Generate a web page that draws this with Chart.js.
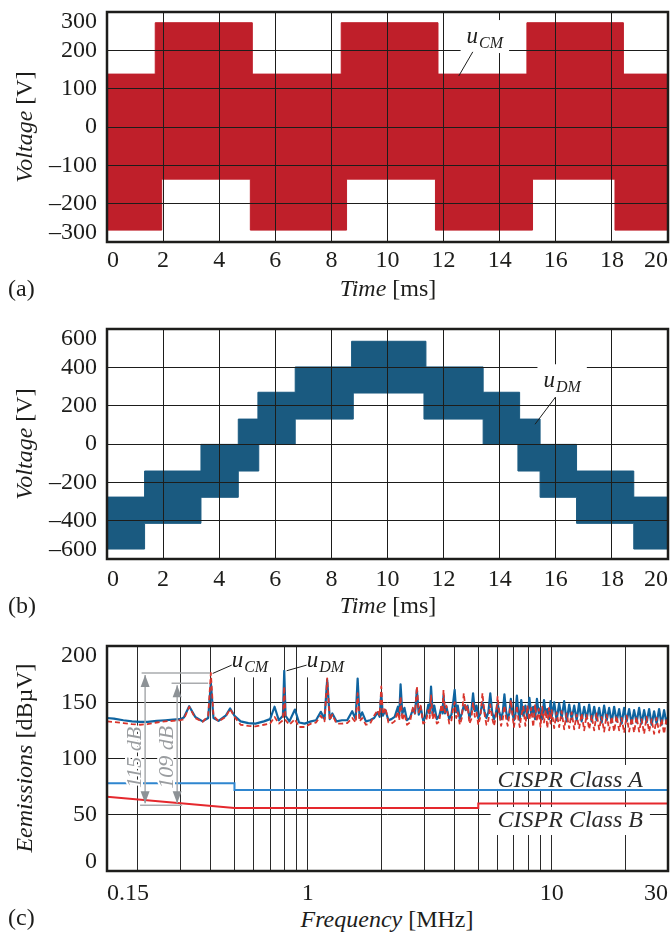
<!DOCTYPE html>
<html>
<head>
<meta charset="utf-8">
<script src="https://cdn.jsdelivr.net/npm/chart.js@4.4.1/dist/chart.umd.min.js"></script>
<style>
    body { margin: 0; background: #fff; }
    #wrap { position: relative; width: 670px; height: 932px; font-family: 'Liberation Serif', 'Times New Roman', serif; color: #1d1d1b; }
    canvas { position: absolute; left: 0; }
    .t { position: absolute; font-size: 24px; line-height: 1; white-space: nowrap; }
    .x { transform: translate(-50%, -50%); }
    .y { transform: translate(-50%, -50%) rotate(-90deg); }
</style>
</head>
<body>
<div id="wrap">
    <canvas id="cmChart" width="670" height="276" style="top:0"></canvas>
    <canvas id="dmChart" width="670" height="276" style="top:317px"></canvas>
    <canvas id="specChart" width="670" height="272" style="top:634px"></canvas>

    <div class="t y" style="left:24px; top:127px"><i>Voltage</i> [V]</div>
    <div class="t x" style="left:388px; top:288px"><i>Time</i> [ms]</div>
    <div class="t" style="left:8px; top:276px">(a)</div>

    <div class="t y" style="left:24px; top:444px"><i>Voltage</i> [V]</div>
    <div class="t x" style="left:388px; top:605px"><i>Time</i> [ms]</div>
    <div class="t" style="left:8px; top:593px">(b)</div>

    <div class="t y" style="left:24px; top:758px"><i>Eemissions</i> [dBµV]</div>
    <div class="t x" style="left:387px; top:919px"><i>Frequency</i> [MHz]</div>
    <div class="t" style="left:8px; top:905px">(c)</div>
</div>

<script>
// (a) common-mode voltage band: step start times [ms] and envelope values [V]
const cmUpperT = [0, 1.72, 5.18, 8.35, 11.80, 14.97, 18.41, 20];
const cmUpperV = [138, 272, 138, 272, 138, 272, 138, 138];
const cmLowerT = [0, 1.95, 5.11, 8.54, 11.71, 15.17, 18.11, 20];
const cmLowerV = [-269, -136, -269, -136, -269, -136, -269, -269];

// (b) differential-mode voltage band
const dmUpperT = [0, 1.34, 3.35, 4.68, 5.38, 6.71, 8.72, 11.37, 13.41, 14.71, 15.44, 16.74, 18.78, 20];
const dmUpperV = [-277, -141, -2, 130, 270, 402, 536, 402, 270, 130, -2, -141, -277, -277];
const dmLowerT = [0, 1.34, 3.35, 4.68, 5.41, 6.71, 8.78, 11.30, 13.41, 14.65, 15.44, 16.74, 18.78, 20];
const dmLowerV = [-548, -414, -278, -141, -2, 130, 266, 130, -2, -141, -278, -414, -548, -548];

const timeTicks = [0, 2, 4, 6, 8, 10, 12, 14, 16, 18, 20];

// (c) spectra, frequency in MHz, emissions in dBuV
const specFreq = [
    0.15, 0.16, 0.175, 0.19, 0.205, 0.22, 0.24, 0.26, 0.28, 0.30,
    0.31, 0.326, 0.345, 0.37, 0.39, 0.40, 0.41, 0.43, 0.46, 0.48, 0.50, 0.53, 0.57, 0.61, 0.66, 0.70, 0.73, 0.76, 0.79, 0.80, 0.81, 0.84, 0.885, 0.92, 0.97,
    1.03, 1.08, 1.13, 1.17, 1.20, 1.23, 1.26, 1.31, 1.38, 1.45, 1.52, 1.57, 1.60, 1.63, 1.67, 1.73, 1.80, 1.87, 1.93, 1.97,
    2.00, 2.03, 2.08, 2.14, 2.20, 2.27, 2.34, 2.37, 2.40, 2.44, 2.49, 2.55, 2.62, 2.70, 2.75, 2.80, 2.85, 2.90, 2.97,
    3.05, 3.12, 3.16, 3.20, 3.25, 3.30, 3.38, 3.46, 3.53, 3.57, 3.60, 3.65, 3.70, 3.80, 3.88, 3.94,
    4.00, 4.06, 4.12, 4.20, 4.28, 4.36, 4.44, 4.52, 4.60, 4.68, 4.76, 4.84, 4.92,
    5.0, 5.1, 5.2, 5.3, 5.4, 5.5, 5.6, 5.7, 5.8, 5.9, 6.0, 6.1, 6.2, 6.3, 6.4, 6.5, 6.6, 6.7, 6.8, 6.9, 7.0, 7.1, 7.2, 7.3, 7.4,
    7.5, 7.65, 7.8, 7.95, 8.1, 8.25, 8.4, 8.55, 8.7, 8.85, 9.0, 9.15, 9.3, 9.45, 9.6, 9.75, 9.9,
    10, 10.24, 10.48, 10.73, 10.99, 11.25, 11.52, 11.8, 12.08, 12.37, 12.66, 12.96, 13.27, 13.59, 13.91, 14.25, 14.59, 14.94, 15.29, 15.66, 16.03, 16.41, 16.81, 17.21,
    17.62, 18.04, 18.47, 18.91, 19.36, 19.82, 20.3, 20.78, 21.28, 21.78, 22.3, 22.84, 23.38, 23.94, 24.51, 25.1, 25.7, 26.31, 26.94, 27.58, 28.24, 28.91, 29.6, 30
];
const dmSpec = [
    136, 135.5, 134, 133, 132.5, 132.5, 133.5, 134, 134.5, 135,
    136.5, 146.5, 137, 133, 136, 167, 136, 133.5, 138, 144.5, 138, 133, 131.5, 131, 133, 135, 146, 134, 138, 178, 138, 133, 143.5, 132, 131,
    133, 134, 141.5, 135, 170, 135, 140, 133, 134, 134, 142, 135, 171, 136, 141, 133, 134, 136, 141, 137,
    158, 138, 143, 134, 135, 137, 146, 138, 166, 140, 145, 134, 136, 144, 140, 161, 139, 146, 134,
    137, 148, 140, 164, 140, 147, 135, 138, 146, 140, 156, 140, 146, 135, 139, 149,
    161, 141, 147, 135, 140, 147, 143, 147, 136, 141, 158, 142, 147,
    136, 140, 150, 142, 136, 141, 158, 141, 135, 140, 149, 141, 135, 141, 157, 142, 135, 140, 153, 141, 134, 140, 156, 141, 134,
    152, 138, 147, 136, 154, 139, 146, 135, 153, 140, 145, 135, 152, 139, 144, 135, 151,
    137, 150, 134, 149, 136, 151, 133, 148, 135, 147, 134, 149, 133, 146, 135, 148, 133, 146, 134, 145, 132, 147, 134, 145,
    132, 146, 133, 144, 131, 145, 133, 144, 131, 143, 132, 145, 131, 143, 132, 144, 130, 142, 131, 144, 130, 143, 131, 137
];
const cmSpec = [
    133, 132.5, 131.5, 130.5, 130, 130.5, 132, 133, 133.5, 134,
    135, 146, 136, 132.5, 138, 176, 138, 133, 137, 144, 137, 130, 129, 128.5, 130, 131, 137, 131, 134, 164, 134, 130, 135, 128, 128,
    131, 132, 138, 133, 171.5, 134, 139, 131, 131, 131.5, 136, 132, 158, 133, 136, 130, 131, 138, 143, 138,
    164, 139, 145, 132, 131, 133, 142, 134, 155, 134, 140, 130, 132, 146, 140, 164, 141, 147, 131,
    133, 143, 136, 156, 135, 141, 131, 133, 148, 141, 161, 141, 147, 131, 134, 144,
    150, 136, 141, 130, 136, 158, 142, 147, 131, 135, 150, 137, 141,
    130, 137, 158, 140, 130, 134, 148, 136, 129, 137, 155, 140, 129, 135, 147, 136, 129, 138, 152, 139, 128, 136, 147, 135, 128,
    138, 146, 129, 147, 134, 145, 128, 148, 133, 144, 128, 146, 132, 143, 127, 145, 131,
    143, 127, 141, 128, 142, 126, 140, 127, 141, 126, 139, 127, 140, 125, 139, 126, 138, 125, 140, 126, 137, 124, 139, 125,
    137, 124, 138, 125, 136, 123, 138, 124, 136, 123, 137, 124, 135, 122, 137, 124, 135, 122, 136, 123, 135, 122, 136, 126
];

// CISPR limit lines
const cisprAFreq = [0.15, 0.5, 0.5, 30];
const cisprAVal = [78, 78, 72, 72];
const cisprBFreq = [0.15, 0.5, 5, 5, 30];
const cisprBVal = [66, 56, 56, 60, 60];

const freqTicks = [0.15, 0.2, 0.3, 0.4, 0.5, 0.6, 0.7, 0.8, 0.9, 1, 2, 3, 4, 5, 6, 7, 8, 9, 10, 20, 30];
const freqLabels = [0.15, 1, 10, 30];

// ---- styling ----
const serif = "'Liberation Serif', 'Times New Roman', serif";
const ink = '#1d1d1b';
const cmRed = '#bf1f2a';
const dmBlue = '#1a5a80';

const toPts = (xs, ys) => xs.map((x, i) => ({ x: x, y: ys[i] }));

function yLabel(lo, hi) {
    return (v) => {
        const s = v < 0 ? '\u2013' + (-v) : String(v);
        if (v === hi) return ['', s];
        if (v === lo) return [s, ''];
        return s;
    };
}

// gz > 0 puts the grid on top of the filled bands
function valueAxis(lo, hi, step, gz) {
    return {
        min: lo, max: hi,
        grid: { color: ink, lineWidth: 1, drawTicks: false, z: gz },
        border: { display: false },
        ticks: { stepSize: step, padding: 10, autoSkip: false, color: ink, font: { family: serif, size: 24, lineHeight: 0.8 }, callback: yLabel(lo, hi) },
        afterFit: (s) => { s.width = 107; s.paddingTop = 0; s.paddingBottom = 0; }
    };
}

function timeAxis(pad) {
    return {
        type: 'linear', min: 0, max: 20,
        grid: { color: ink, lineWidth: 1, drawTicks: false, z: 1 },
        border: { display: false },
        afterBuildTicks: (s) => { s.ticks = timeTicks.map(v => ({ value: v })); },
        ticks: { align: 'inner', padding: pad, maxRotation: 0, autoSkip: false, color: ink, font: { family: serif, size: 24 } },
        afterFit: (s) => { s.height = 34; s.paddingLeft = 0; s.paddingRight = 0; }
    };
}

function frame(chart) {
    const { ctx, chartArea: a } = chart;
    ctx.save();
    ctx.strokeStyle = ink;
    ctx.lineWidth = 2.5;
    ctx.strokeRect(a.left, a.top, a.right - a.left, a.bottom - a.top);
    ctx.restore();
}

// italic label with subscript, on a white patch, with a leader line
function subLabel(chart, at, main, sub, from, to) {
    const { ctx, scales: { x, y } } = chart;
    const px = x.getPixelForValue(at[0]);
    const py = y.getPixelForValue(at[1]);
    ctx.save();
    ctx.font = 'italic 23px ' + serif;
    const w1 = ctx.measureText(main).width;
    ctx.font = 'italic 16px ' + serif;
    const w2 = ctx.measureText(sub).width;
    ctx.fillStyle = '#fff';
    ctx.fillRect(px - 6, py - 23, w1 + w2 + 13, 33);
    ctx.strokeStyle = ink;
    ctx.lineWidth = 1;
    ctx.beginPath();
    ctx.moveTo(x.getPixelForValue(from[0]), y.getPixelForValue(from[1]));
    ctx.lineTo(x.getPixelForValue(to[0]), y.getPixelForValue(to[1]));
    ctx.stroke();
    ctx.fillStyle = ink;
    ctx.textBaseline = 'alphabetic';
    ctx.font = 'italic 23px ' + serif;
    ctx.fillText(main, px, py);
    ctx.font = 'italic 16px ' + serif;
    ctx.fillText(sub, px + w1 + 1, py + 5);
    ctx.restore();
}

const baseOptions = {
    responsive: false,
    animation: false,
    devicePixelRatio: 1,
    layout: { padding: { top: 12, right: 2, left: 0, bottom: 0 } },
    plugins: { legend: { display: false }, tooltip: { enabled: false } },
    elements: { point: { radius: 0 } }
};

function bandDatasets(upT, upV, loT, loV, color) {
    return [
        { data: toPts(upT, upV), stepped: true, fill: '+1', backgroundColor: color, borderColor: color, borderWidth: 1 },
        { data: toPts(loT, loV), stepped: true, fill: false, borderColor: color, borderWidth: 1 }
    ];
}

// ---- (a) ----
new Chart(document.getElementById('cmChart'), {
    type: 'line',
    data: { datasets: bandDatasets(cmUpperT, cmUpperV, cmLowerT, cmLowerV, cmRed) },
    options: Object.assign({}, baseOptions, {
        scales: { x: timeAxis(4), y: valueAxis(-300, 300, 100, 1) }
    }),
    plugins: [{
        id: 'notesA',
        afterDraw(chart) {
            subLabel(chart, [12.82, 219], 'u', 'CM', [13.04, 196], [12.54, 133]);
            frame(chart);
        }
    }]
});

// ---- (b) ----
new Chart(document.getElementById('dmChart'), {
    type: 'line',
    data: { datasets: bandDatasets(dmUpperT, dmUpperV, dmLowerT, dmLowerV, dmBlue) },
    options: Object.assign({}, baseOptions, {
        scales: { x: timeAxis(6), y: valueAxis(-600, 600, 200, 1) }
    }),
    plugins: [{
        id: 'notesB',
        afterDraw(chart) {
            subLabel(chart, [15.56, 296], 'u', 'DM', [15.99, 245], [15.26, 103]);
            frame(chart);
        }
    }]
});

// ---- (c) ----
function drawSpecNotes(chart) {
    const { ctx, scales: { x, y } } = chart;
    const X = v => x.getPixelForValue(v);
    const Y = v => y.getPixelForValue(v);
    ctx.save();

    // white patches behind the CISPR captions
    ctx.font = 'italic 24px ' + serif;
    const capA = 'CISPR Class A', capB = 'CISPR Class B';
    const cx = X(6.0);
    const wA = ctx.measureText(capA).width;
    const wB = ctx.measureText(capB).width;
    ctx.fillStyle = '#fff';
    ctx.fillRect(cx - 7, Y(74.7) - 22, wA + 14, 24);
    ctx.fillRect(cx - 7, Y(39.1) - 20, wB + 14, 28);
    ctx.fillStyle = '#2b2b2b';
    ctx.textBaseline = 'alphabetic';
    ctx.fillText(capA, cx, Y(74.7));
    ctx.fillText(capB, cx, Y(39.1));

    // level difference markers
    ctx.strokeStyle = '#a9abae';
    ctx.lineWidth = 1.5;
    const hl = (f0, f1, v) => { ctx.beginPath(); ctx.moveTo(X(f0), Y(v)); ctx.lineTo(X(f1), Y(v)); ctx.stroke(); };
    hl(0.208, 0.397, 176);
    hl(0.276, 0.39, 167);
    hl(0.205, 0.305, 58.5);

    const arrow = (f, top, bot) => {
        const px = X(f), y0 = Y(top) + 2, y1 = Y(bot) - 2;
        ctx.strokeStyle = '#a9abae';
        ctx.lineWidth = 1.5;
        ctx.beginPath(); ctx.moveTo(px, y0); ctx.lineTo(px, y1); ctx.stroke();
        ctx.fillStyle = '#8d9296';
        ctx.beginPath(); ctx.moveTo(px, y0); ctx.lineTo(px - 4.5, y0 + 12); ctx.lineTo(px + 4.5, y0 + 12); ctx.closePath(); ctx.fill();
        ctx.beginPath(); ctx.moveTo(px, y1); ctx.lineTo(px - 4.5, y1 - 12); ctx.lineTo(px + 4.5, y1 - 12); ctx.closePath(); ctx.fill();
    };
    arrow(0.215, 176, 58.5);
    arrow(0.291, 167, 58.5);

    const vtext = (s, f, v) => {
        ctx.save();
        ctx.translate(X(f), Y(v));
        ctx.rotate(-Math.PI / 2);
        ctx.font = 'italic 22px ' + serif;
        ctx.textAlign = 'center';
        ctx.textBaseline = 'middle';
        ctx.strokeStyle = '#fff';
        ctx.lineWidth = 4;
        ctx.lineJoin = 'round';
        ctx.strokeText(s, 0, 0);
        ctx.fillStyle = '#9a9da0';
        ctx.fillText(s, 0, 0);
        ctx.restore();
    };
    vtext('115 dB', 0.195, 101);
    vtext('109 dB', 0.266, 101);
    ctx.restore();

    subLabel(chart, [0.487, 181], 'u', 'CM', [0.487, 183], [0.407, 175.6]);
    subLabel(chart, [0.99, 181], 'u', 'DM', [0.988, 183], [0.818, 178]);
    frame(chart);
}

new Chart(document.getElementById('specChart'), {
    type: 'line',
    data: {
        datasets: [
            { data: toPts(specFreq, cmSpec), borderColor: '#d8352c', borderWidth: 1.8, borderDash: [5, 3], borderJoinStyle: 'round', tension: 0 },
            { data: toPts(specFreq, dmSpec), borderColor: '#0f64a0', borderWidth: 2.2, borderJoinStyle: 'round', tension: 0 },
            { data: toPts(cisprAFreq, cisprAVal), borderColor: '#2f86cf', borderWidth: 2 },
            { data: toPts(cisprBFreq, cisprBVal), borderColor: '#e5282d', borderWidth: 2 }
        ]
    },
    options: Object.assign({}, baseOptions, {
        scales: {
            x: {
                type: 'logarithmic', min: 0.15, max: 30,
                grid: { color: '#2a2a2a', lineWidth: 1, drawTicks: false },
                border: { display: false },
                afterBuildTicks: (s) => { s.ticks = freqTicks.map(v => ({ value: v })); },
                ticks: {
                    align: 'inner', padding: 8, maxRotation: 0, autoSkip: false, color: ink,
                    font: { family: serif, size: 24 },
                    callback: (v) => freqLabels.includes(v) ? String(v) : ''
                },
                afterFit: (s) => { s.height = 35; s.paddingLeft = 0; s.paddingRight = 0; }
            },
            y: valueAxis(0, 200, 50, -1)
        }
    }),
    plugins: [{ id: 'notesC', afterDraw: drawSpecNotes }]
});
</script>
</body>
</html>
